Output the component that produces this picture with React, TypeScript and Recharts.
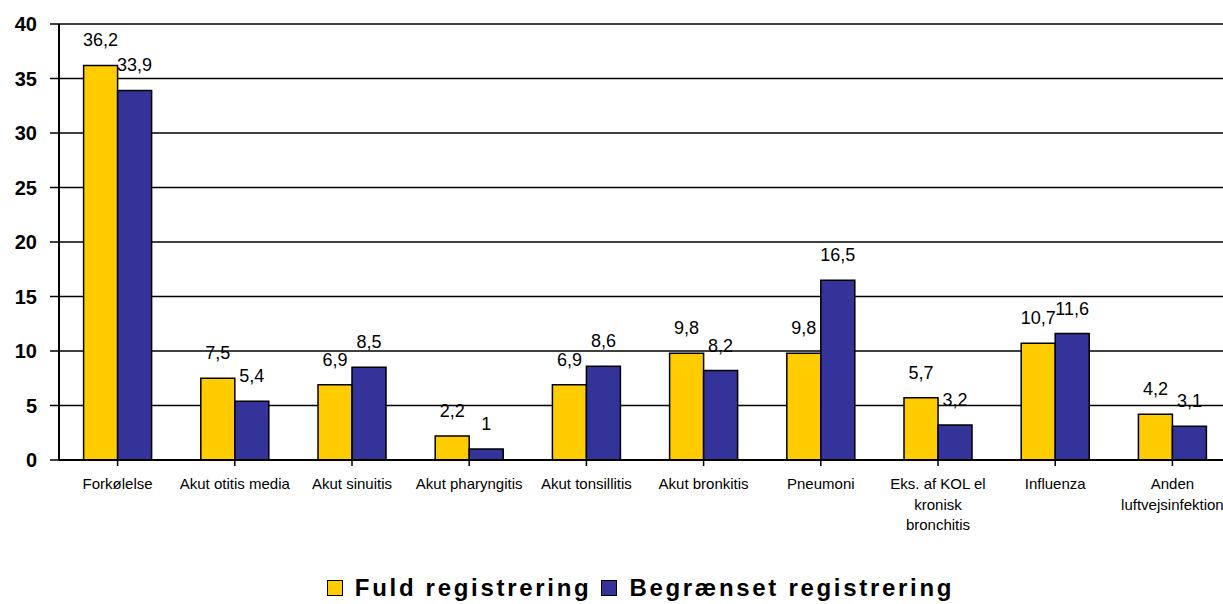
import React from 'react';
import { BarChart, Bar, XAxis, YAxis, CartesianGrid, LabelList, Legend } from 'recharts';

const categories = [
  'Forkølelse',
  'Akut otitis media',
  'Akut sinuitis',
  'Akut pharyngitis',
  'Akut tonsillitis',
  'Akut bronkitis',
  'Pneumoni',
  'Eks. af KOL el\nkronisk\nbronchitis',
  'Influenza',
  'Anden\nluftvejsinfektion',
];
const fuldValues = [36.2, 7.5, 6.9, 2.2, 6.9, 9.8, 9.8, 5.7, 10.7, 4.2];
const begraensetValues = [33.9, 5.4, 8.5, 1, 8.6, 8.2, 16.5, 3.2, 11.6, 3.1];
const yTicks = [0, 5, 10, 15, 20, 25, 30, 35, 40];
const seriesNames = ['Fuld registrering', 'Begrænset registrering'];
const seriesColors = ['#FFCC00', '#333399'];

const data = categories.map((c, i) => ({
  name: c,
  fuld: fuldValues[i],
  begr: begraensetValues[i],
}));

const FONT = '"Liberation Sans", Arial, sans-serif';

const fmt = (v: any) => String(v).replace('.', ',');

const XTick = (props: any) => {
  const { x, y, payload } = props;
  const lines = String(payload.value).split('\n');
  return (
    <text x={x} y={y + 21} textAnchor="middle" fontFamily={FONT} fontSize={15} fill="#000">
      {lines.map((l: string, i: number) => (
        <tspan key={i} x={x} dy={i === 0 ? 0 : 20.5}>
          {l}
        </tspan>
      ))}
    </text>
  );
};

const YTick = (props: any) => {
  const { x, y, payload } = props;
  return (
    <text x={x - 11} y={y + 7} textAnchor="end" fontFamily={FONT} fontSize={20} fontWeight="bold" fill="#000">
      {payload.value}
    </text>
  );
};

const LegendContent = () => (
  <div
    style={{
      display: 'flex',
      justifyContent: 'center',
      alignItems: 'center',
      fontFamily: FONT,
      fontWeight: 'bold',
      fontSize: 24,
      letterSpacing: '2.7px',
      color: '#000',
    }}
  >
    {seriesNames.map((n, i) => (
      <div key={n} style={{ display: 'flex', alignItems: 'center', marginRight: i === 0 ? 10 : 0 }}>
        <span
          style={{
            display: 'inline-block',
            width: 14,
            height: 14,
            background: seriesColors[i],
            border: '1.5px solid #000',
            marginRight: 12,
          }}
        />
        <span>{n}</span>
      </div>
    ))}
  </div>
);

export default function App() {
  return (
    <div style={{ position: 'absolute', left: 0, top: 0, width: 1223, height: 604, overflow: 'hidden', background: '#fff' }}>
      <BarChart
        width={1240}
        height={604}
        data={data}
        margin={{ top: 24, right: 9, left: 0, bottom: 44 }}
        barCategoryGap="21%"
        barGap={0}
      >
        <CartesianGrid horizontal={true} vertical={false} stroke="#000" strokeWidth={1.5} />
        <XAxis
          dataKey="name"
          interval={0}
          height={100}
          tick={<XTick />}
          tickSize={6}
          axisLine={{ stroke: '#000', strokeWidth: 2 }}
          tickLine={{ stroke: '#000', strokeWidth: 1.5 }}
          scale="band"
        />
        <YAxis
          width={59}
          domain={[0, 40]}
          ticks={yTicks}
          interval={0}
          tick={<YTick />}
          tickSize={9}
          axisLine={{ stroke: '#000', strokeWidth: 2 }}
          tickLine={{ stroke: '#000', strokeWidth: 1.5 }}
        />
        <Legend
          layout="horizontal"
          verticalAlign="middle"
          align="center"
          content={<LegendContent />}
          wrapperStyle={{ position: 'absolute', left: 29, top: 574, width: 1223 }}
        />
        <Bar dataKey="fuld" name={seriesNames[0]} fill={seriesColors[0]} stroke="#000" strokeWidth={1.5} isAnimationActive={false}>
          <LabelList dataKey="fuld" position="top" offset={19} formatter={fmt} fill="#000" fontSize={18} fontFamily={FONT} />
        </Bar>
        <Bar dataKey="begr" name={seriesNames[1]} fill={seriesColors[1]} stroke="#000" strokeWidth={1.5} isAnimationActive={false}>
          <LabelList dataKey="begr" position="top" offset={19} formatter={fmt} fill="#000" fontSize={18} fontFamily={FONT} />
        </Bar>
      </BarChart>
    </div>
  );
}
